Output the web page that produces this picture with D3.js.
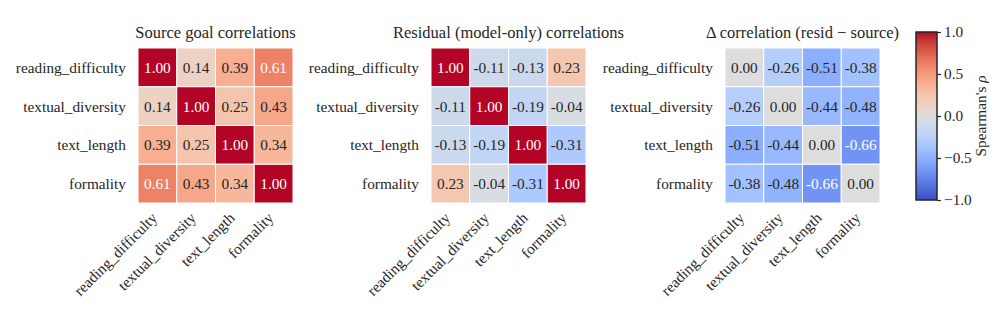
<!DOCTYPE html>
<html><head><meta charset="utf-8">
<script src="https://cdn.jsdelivr.net/npm/d3@7"></script>
<style>body{margin:0;background:#fff}svg{display:block}</style>
</head><body>
<svg id="c" width="996" height="332"></svg>
<script>
const labels = ["reading_difficulty","textual_diversity","text_length","formality"];
const titles = ["Source goal correlations","Residual (model-only) correlations","\u0394 correlation (resid \u2212 source)"];
const sourceCorr = [
  [1.00,0.14,0.39,0.61],
  [0.14,1.00,0.25,0.43],
  [0.39,0.25,1.00,0.34],
  [0.61,0.43,0.34,1.00]];
const residCorr = [
  [1.00,-0.11,-0.13,0.23],
  [-0.11,1.00,-0.19,-0.04],
  [-0.13,-0.19,1.00,-0.31],
  [0.23,-0.04,-0.31,1.00]];
const deltaCorr = [
  [0.00,-0.26,-0.51,-0.38],
  [-0.26,0.00,-0.44,-0.48],
  [-0.51,-0.44,0.00,-0.66],
  [-0.38,-0.48,-0.66,0.00]];
const cbTicks = [1.0,0.5,0.0,-0.5,-1.0];
const cbLabel = "Spearman's ";
const cbSymbol = "\u03C1";

// coolwarm (Moreland) table
const cw = [[59,76,192],[68,90,204],[77,104,215],[87,117,225],[98,130,234],[108,142,241],[119,154,247],[130,165,251],[141,176,254],[152,185,255],[163,194,255],[174,201,253],[184,208,249],[194,213,244],[204,217,238],[213,219,230],[221,221,221],[229,216,209],[236,211,197],[241,204,185],[245,196,173],[247,187,160],[247,177,148],[247,166,135],[244,154,123],[241,141,111],[236,127,99],[229,112,88],[222,96,77],[213,80,66],[203,62,56],[192,40,47],[180,4,38]];
const interp = d3.piecewise(d3.interpolateRgb, cw.map(c=>d3.rgb(c[0],c[1],c[2])));
const color = d3.scaleSequential(interp).domain([-1,1]);

function lum(c){
  const r = d3.rgb(c);
  const f = v => { v/=255; return v<=0.03928? v/12.92 : Math.pow((v+0.055)/1.055,2.4); };
  return 0.2126*f(r.r)+0.7152*f(r.g)+0.0722*f(r.b);
}

const svg = d3.select("#c");
const FONT = "Liberation Serif, Times New Roman, DejaVu Serif, serif";
const FS = 15.3;
const panels = [
  {data: sourceCorr, x0: 138},
  {data: residCorr, x0: 431},
  {data: deltaCorr, x0: 725}
];
const size = 155, y0 = 48;

panels.forEach((p, pi) => {
  const g = svg.append("g").attr("transform", `translate(${p.x0},${y0})`);
  const xs = d3.scaleBand().domain(labels).range([0,size]);
  const ys = d3.scaleBand().domain(labels).range([0,size]);
  const cells = [];
  p.data.forEach((row,i)=>row.forEach((v,j)=>cells.push({r:labels[i],c:labels[j],v})));
  g.selectAll("rect.cell").data(cells).join("rect")
    .attr("x", d=>xs(d.c)).attr("y", d=>ys(d.r))
    .attr("width", xs.bandwidth()).attr("height", ys.bandwidth())
    .attr("fill", d=>color(d.v)).attr("stroke","#fff").attr("stroke-width",1);
  g.selectAll("text.ann").data(cells).join("text")
    .attr("x", d=>xs(d.c)+xs.bandwidth()/2).attr("y", d=>ys(d.r)+ys.bandwidth()/2)
    .attr("text-anchor","middle").attr("dominant-baseline","central")
    .attr("font-family",FONT).attr("font-size",FS)
    .attr("fill", d=> lum(color(d.v))>0.408 ? "#262626" : "#fff")
    .text(d=>d.v.toFixed(2));
  g.selectAll("text.yl").data(labels).join("text")
    .attr("x",-12).attr("y", d=>ys(d)+ys.bandwidth()/2)
    .attr("text-anchor","end").attr("dominant-baseline","central")
    .attr("font-family",FONT).attr("font-size",FS).attr("fill","#262626")
    .text(d=>d);
  g.selectAll("text.xl").data(labels).join("text")
    .attr("transform", d=>`translate(${xs(d)+xs.bandwidth()/2-3},${size+12}) rotate(-45)`)
    .attr("text-anchor","end").attr("dominant-baseline","central")
    .attr("font-family",FONT).attr("font-size",FS).attr("fill","#262626")
    .text(d=>d);
  svg.append("text").attr("x", p.x0+size/2).attr("y", 38)
    .attr("text-anchor","middle").attr("font-family",FONT).attr("font-size",16.5).attr("fill","#262626")
    .text(titles[pi]);
});

// colorbar
const cbx = 916, cbw = 21, cby0 = 32, cby1 = 200;
const cbScale = d3.scaleLinear().domain([-1,1]).range([cby1,cby0]);
const defs = svg.append("defs");
const grad = defs.append("linearGradient").attr("id","cwg").attr("x1",0).attr("y1",1).attr("x2",0).attr("y2",0);
d3.range(0,1.0001,1/32).forEach(t=>grad.append("stop").attr("offset",t).attr("stop-color",color(-1+2*t)));
svg.append("rect").attr("x",cbx).attr("y",cby0).attr("width",cbw).attr("height",cby1-cby0)
  .attr("fill","url(#cwg)").attr("stroke","#262626").attr("stroke-width",1.5);
const ax = svg.append("g").attr("transform",`translate(${cbx+cbw},0)`)
  .call(d3.axisRight(cbScale).tickValues(cbTicks).tickSize(4).tickPadding(3)
    .tickFormat(d=>d3.format(".1f")(d).replace("-","\u2212")));
ax.select(".domain").remove();
ax.selectAll("line").attr("stroke","#262626").attr("stroke-width",1.2);
ax.selectAll("text").attr("font-family",FONT).attr("font-size",FS).attr("fill","#262626");
const lbl = svg.append("text").attr("transform",`translate(986,${(cby0+cby1)/2}) rotate(-90)`)
  .attr("text-anchor","middle").attr("font-family",FONT).attr("font-size",FS).attr("fill","#262626");
lbl.append("tspan").text(cbLabel);
lbl.append("tspan").attr("font-style","italic").text(cbSymbol);
</script>
</body></html>
